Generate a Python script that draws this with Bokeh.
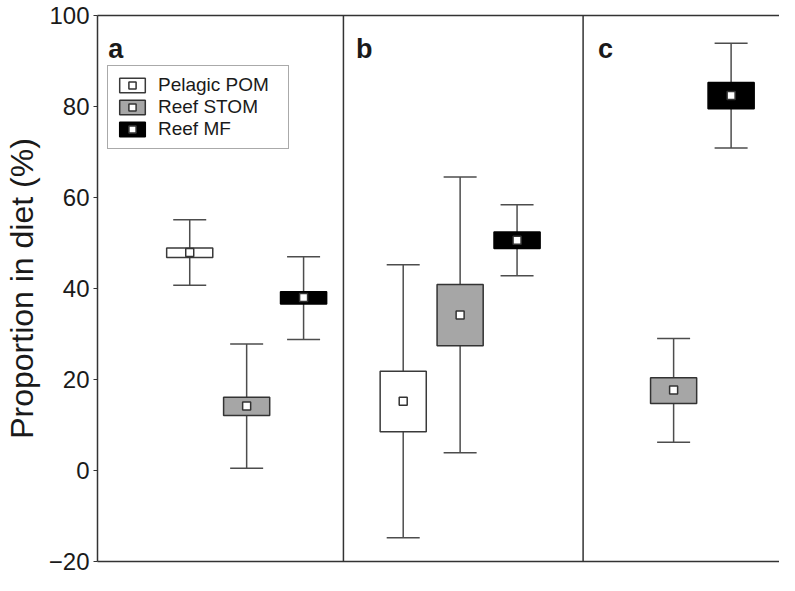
from bokeh.plotting import figure
from bokeh.models import (ColumnDataSource, Whisker, TeeHead, Span, Label, Legend,
                          LegendItem, LinearAxis, FixedTicker, Range1d)
from bokeh.embed import file_html
from bokeh.resources import INLINE

# ---------------- data ----------------
series_names = ["Pelagic POM", "Reef STOM", "Reef MF"]
panel_labels = ["a", "b", "c"]

# box positions (slot units along the x axis) and five-number summaries
pom_x = [1.62, 5.37]
pom_lo = [40.7, -14.8]
pom_q1 = [46.8, 8.5]
pom_med = [47.9, 15.2]
pom_q3 = [48.9, 21.8]
pom_hi = [55.1, 45.2]

stom_x = [2.62, 6.37, 10.12]
stom_lo = [0.5, 3.9, 6.2]
stom_q1 = [12.1, 27.4, 14.7]
stom_med = [14.2, 34.2, 17.7]
stom_q3 = [16.1, 40.9, 20.4]
stom_hi = [27.8, 64.5, 29.0]

mf_x = [3.62, 7.37, 11.13]
mf_lo = [28.8, 42.8, 70.9]
mf_q1 = [36.6, 48.8, 79.5]
mf_med = [38.0, 50.6, 82.4]
mf_q3 = [39.3, 52.4, 85.3]
mf_hi = [47.0, 58.4, 93.9]

y_ticks = [-20, 0, 20, 40, 60, 80, 100]
panel_dividers = [4.32, 8.53]
panel_label_x = [0.19, 4.54, 8.79]
panel_label_y = 92.6

FONT = "Liberation Sans"
AX = "#333333"

p = figure(width=779, height=575, x_range=Range1d(0, 11.98), y_range=Range1d(-20, 100),
           output_backend="svg", toolbar_location=None, x_axis_location=None,
           min_border_left=96, min_border_right=0, min_border_top=15, min_border_bottom=14,
           background_fill_color="white", border_fill_color="white")
p.outline_line_color = None
p.grid.visible = False

# left axis
ya = p.yaxis[0]
ya.ticker = FixedTicker(ticks=y_ticks)
ya.major_label_overrides = {-20: "\u221220"}
ya.major_label_text_font = FONT
ya.major_label_text_font_size = "24px"
ya.major_label_text_color = "#1a1a1a"
ya.major_label_standoff = 4
ya.major_tick_out = 4
ya.major_tick_in = 0
ya.minor_tick_line_color = None
ya.major_tick_line_color = AX
ya.axis_line_color = AX
ya.axis_line_width = 1.5
ya.axis_label = "Proportion in diet (%)"
ya.axis_label_text_font = FONT
ya.axis_label_text_font_size = "32px"
ya.axis_label_text_font_style = "normal"
ya.axis_label_text_color = "#1a1a1a"
ya.axis_label_standoff = 6

# top and bottom frame lines as bare axes
for loc in ("above", "below"):
    ax = LinearAxis(ticker=FixedTicker(ticks=[]), major_label_text_font_size="0px",
                    major_tick_line_color=None, minor_tick_line_color=None,
                    major_tick_out=0, major_tick_in=0, minor_tick_out=0, minor_tick_in=0,
                    major_label_standoff=0, axis_line_color=AX, axis_line_width=1.5)
    p.add_layout(ax, loc)

# panel dividers
for d in panel_dividers:
    p.add_layout(Span(location=d, dimension="height", line_color=AX, line_width=1.5))

series = [
    (series_names[0], pom_x, pom_lo, pom_q1, pom_med, pom_q3, pom_hi, "white", "#3a3a3a"),
    (series_names[1], stom_x, stom_lo, stom_q1, stom_med, stom_q3, stom_hi, "#a6a6a6", "#333333"),
    (series_names[2], mf_x, mf_lo, mf_q1, mf_med, mf_q3, mf_hi, "black", "black"),
]

items = []
for name, x, lo, q1, med, q3, hi, fill, edge in series:
    src = ColumnDataSource(dict(x=x, lo=lo, q1=q1, med=med, q3=q3, hi=hi))
    w = Whisker(source=src, base="x", lower="lo", upper="hi", dimension="height",
                line_color="#4d4d4d", line_width=1.5, level="underlay",
                upper_head=TeeHead(size=33, line_color="#4d4d4d", line_width=1.5),
                lower_head=TeeHead(size=33, line_color="#4d4d4d", line_width=1.5))
    p.add_layout(w)
    box = p.vbar(x="x", width=0.81, bottom="q1", top="q3", source=src,
                 fill_color=fill, line_color=edge, line_width=1.5)
    mark = p.scatter(x="x", y="med", source=src, marker="square", size=8,
                     fill_color="white", line_color="#333333", line_width=1.5)
    items.append(LegendItem(label=name, renderers=[box, mark]))

legend = Legend(items=items, location=(10, 412), orientation="vertical",
                border_line_color="#555555", border_line_width=1.5,
                background_fill_color="white", background_fill_alpha=1.0,
                padding=8, spacing=0, margin=0,
                glyph_width=32, glyph_height=18, label_standoff=10,
                label_width=122, label_height=18,
                label_text_font=FONT, label_text_font_size="19px",
                label_text_color="#1a1a1a")
p.add_layout(legend)

for lab, lx in zip(panel_labels, panel_label_x):
    p.add_layout(Label(x=lx, y=panel_label_y, text=lab, text_font=FONT,
                       text_font_size="27px", text_font_style="bold",
                       text_color="#1a1a1a", text_baseline="alphabetic"))

open("out.html", "w").write(file_html(p, INLINE))
